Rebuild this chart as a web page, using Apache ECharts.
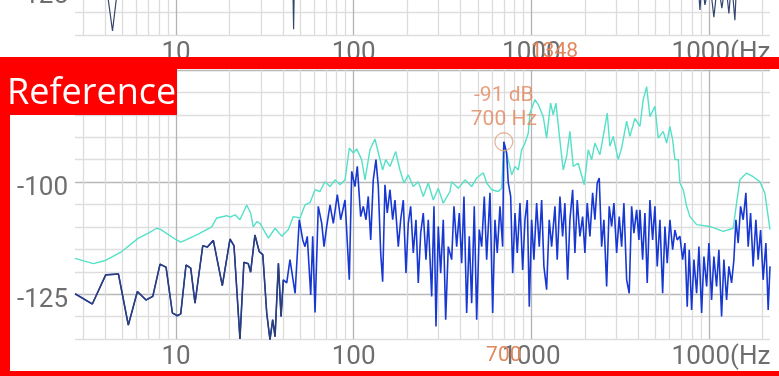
<!DOCTYPE html>
<html><head><meta charset="utf-8">
<script src="https://cdn.jsdelivr.net/npm/echarts@6/dist/echarts.min.js"></script>
<style>html,body{margin:0;padding:0;background:#fff}#c{width:779px;height:376px}</style>
</head><body><div id="c"></div>
<script>
// ---- data ----
const cyanHz = [2.70,3.43,3.99,4.95,6.14,6.99,7.79,8.13,9.88,10.63,11.38,13.35,15.88,16.95,19.29,20.13,21.5,22.9,25.0,26.3,27.2,28.5,29.7,30.4,33.1,36.1,39.4,42.9,45.7,49.9,53.2,56.8,60.6,64.6,69.0,73.6,78.5,83.8,89.4,94.5,99.5,104.0,110.9,115.8,123.5,131.8,139.4,145.6,151.4,160.1,172.4,182.2,191.9,202.9,216.5,231.0,246.5,263.0,280.6,299.4,319.4,348.4,356.1,388.0,423.1,461.5,492.4,536.4,560.5,598.1,651.6,680.8,700,741.7,775.0,809.0,844.4,882.3,920.9,961.2,982.6,1048,1094,1167,1219,1284,1328,1376,1436,1512,1580,1649,1721,1836,1985,2091,2185,2280,2433,2539,2674,2769,2891,3084,3223,3439,3589,3829,4086,4264,4457,4651,4962,5179,5526,5775,6027,6242,6430,6712,6861,7161,7484,7811,8520,10117,12020,13683,14300,14925,16278,17726,19341,20636,22050];
const cyanDb = [-117.0,-118.2,-117.5,-115.5,-112.5,-111.4,-110.3,-110.5,-112.7,-113.4,-112.9,-111.6,-110.0,-108.0,-107.5,-107.8,-107.3,-108.4,-105.1,-106.9,-110.0,-108.8,-109.2,-108.8,-112.5,-110.3,-112.1,-110.6,-107.7,-108.0,-105.1,-104.6,-101.7,-102.1,-99.9,-101.0,-99.5,-100.6,-99.5,-92.4,-93.5,-92.6,-95.0,-99.5,-92.8,-90.4,-94.3,-97.3,-95.0,-96.5,-93.2,-97.3,-100.2,-98.4,-101.0,-99.9,-103.2,-100.2,-104.0,-101.4,-104.7,-102.1,-99.9,-101.4,-99.5,-101.0,-99.1,-97.9,-100.2,-101.7,-102.1,-101.4,-91.3,-95.0,-98.4,-96.5,-97.3,-92.8,-91.3,-89.1,-84.6,-81.6,-82.7,-85.4,-90.2,-82.4,-85.0,-82.4,-89.4,-97.3,-94.3,-88.7,-96.5,-95.8,-100.6,-92.8,-95.0,-91.3,-93.9,-89.8,-84.6,-92.0,-89.8,-95.0,-92.4,-86.4,-89.8,-85.8,-87.6,-81.6,-78.7,-85.4,-83.1,-90.2,-88.7,-91.3,-87.6,-90.6,-95.0,-95.0,-100.2,-101.7,-105.4,-107.7,-109.5,-109.9,-111.0,-110.3,-104.7,-99.5,-98.0,-98.8,-99.9,-102.5,-110.6];

const blueHz = [2.70,3.38,4.02,4.74,5.39,6.06,6.78,7.40,8.13,8.79,9.54,10.17,10.63,11.38,12.10,12.79,14.14,15.00,16.22,18.22,20.13,21.2,22.9,24.1,25.5,26.3,27.8,29.4,30.8,32.4,33.8,35.0,36.1,37.7,39.0,40.2,42.0,43.8,46.8,49.4,51.7,53.2,54.8,57.3,58.8,60.6,63.2,66.1,68.1,70.5,73.6,76.8,80.9,84.5,89.4,94.5,97.5,101.7,104.8,109.5,113.3,117.3,120.8,124.7,128.9,133.5,137.6,141.9,145.6,150.0,154.5,160.1,165.8,170.8,178.3,183.9,190.2,196.9,202.9,209.3,216.5,224.2,231.0,238.3,246.5,255.2,263.0,274.8,283.1,290.6,299.4,308.8,319.4,329.5,340.8,356.1,366.9,380.0,393.0,405.4,417.7,432.5,447.4,461.5,477.3,492.4,509.3,525.4,543.4,560.5,585.1,605.9,624.2,643.0,666.0,689.7,700,726,741.7,765.1,785.2,809.0,833.3,863.1,893.8,920.9,948.6,973.7,1004,1034,1071,1108,1143,1177,1219,1261,1301,1358,1399,1449,1500,1545,1601,1649,1708,1759,1813,1877,1944,2003,2064,2137,2213,2280,2349,2411,2487,2562,2654,2744,2831,2917,3021,3124,3223,3320,3439,3556,3669,3780,3915,4033,4086,4231,4359,4491,4651,4817,4962,5113,5295,5484,5649,5820,6027,6242,6430,6626,6861,7106,7320,7542,7740,7985,8226,8520,8777,9090,9365,9699,9990,10342,10655,11034,11368,11773,12130,12561,12942,13402,13810,14177,14600,15063,15578,16130,16621,17145,17726,18364,18913,19520,20178,20905,21537,22050];
const blueDb = [-124.9,-127.2,-120.7,-120.5,-131.9,-124.4,-126.3,-125.5,-118.3,-119.0,-129.2,-129.8,-129.4,-118.5,-119.2,-127.0,-114.2,-114.5,-113.0,-123.1,-112.7,-114.2,-135.0,-117.9,-118.2,-120.1,-111.8,-115.5,-116.2,-129.2,-135.2,-130.7,-134.5,-118.1,-130.0,-121.8,-122.5,-117.3,-124.8,-108.4,-112.9,-114.4,-112.1,-125.2,-112.1,-129.1,-105.4,-109.2,-114.4,-109.9,-105.1,-109.2,-102.8,-108.4,-104.0,-121.8,-97.6,-101.0,-96.5,-107.7,-105.4,-108.4,-103.2,-112.9,-99.5,-95.0,-101.0,-115.8,-122.2,-100.6,-106.9,-101.7,-108.4,-104.0,-114.4,-108.4,-104.0,-120.3,-109.2,-105.4,-115.8,-108.4,-122.5,-111.4,-106.9,-117.3,-108.4,-125.5,-105.4,-132.2,-109.9,-120.3,-108.4,-130.7,-114.4,-117.3,-105.4,-114.4,-106.9,-118.1,-103.2,-129.2,-112.1,-127.0,-105.4,-130.7,-110.6,-114.4,-103.2,-117.3,-102.4,-129.2,-108.4,-115.8,-105.4,-114.4,-91.0,-93.5,-100.2,-103.2,-120.3,-106.9,-115.8,-104.7,-119.6,-108.4,-104.0,-127.8,-108.4,-117.3,-104.7,-114.4,-104.0,-118.8,-124.0,-108.4,-114.4,-105.4,-117.3,-103.2,-112.1,-104.7,-121.8,-108.4,-101.7,-115.8,-104.0,-112.1,-107.7,-115.8,-104.7,-112.1,-102.4,-108.4,-100.2,-99.1,-114.4,-108.4,-123.3,-105.4,-109.9,-104.7,-115.8,-107.7,-114.4,-104.7,-121.8,-124.8,-105.4,-111.4,-106.2,-112.9,-106.2,-117.3,-106.9,-122.5,-104.0,-112.9,-105.4,-118.8,-108.4,-124.8,-109.9,-118.1,-108.4,-115.1,-110.7,-112.9,-112.1,-117.3,-113.6,-127.8,-115.1,-128.5,-117.3,-124.8,-114.4,-129.2,-116.6,-123.3,-113.6,-126.3,-116.6,-123.3,-115.1,-130.0,-117.3,-126.3,-118.8,-122.5,-117.3,-108.4,-113.6,-105.4,-108.4,-102.4,-114.4,-106.9,-118.8,-108.4,-117.3,-110.7,-121.8,-113.6,-128.5,-118.8];

// previous trace, only its lowest dips show in the strip above the frame
const prevHz = [2.7,3.93,4.39,4.84,40,45.4,45.9,46.4,8500,8892,9150,9486,10100,10655,11200,11819,12400,12942,13400,13989,14500,22050];
const prevDb = [-112,-120,-134.1,-120,-115,-122,-133.7,-122,-118,-129.4,-123,-128.3,-123,-131,-123,-129,-123,-130.2,-123,-131.7,-118,-112];

const xTickValues = [10,100,1000,10000];
const xTickLabels = ['10','100','1000','1000(Hz'];
const yTickLabels = [-125,-100,-75];
const gridHz = [3,4,5,6,7,8,9,10,20,30,40,50,60,70,80,90,100,200,300,400,500,600,700,800,900,1000,2000,3000,4000,5000,6000,7000,8000,9000,10000,20000];
const markerHz = 700, markerDb = -91;
const prevMarkerHz = 1348;

// ---- chart ----
const GRAY = '#6e6e6e', ORANGE = '#e0875c';
const mn = '#dcdcdc', mj = '#b3b3b3';
const pairs = (a, b) => a.map((v, i) => [v, b[i]]);
const lowBlue = blueHz.map((v, i) => [v, blueDb[i]]).filter(d => d[0] <= 40.2);

function xAxis(gi) {
  return {
    type: 'log', logBase: 10, gridIndex: gi, min: 2.7, max: 22050,
    axisLine: { show: false },
    axisTick: { show: false, customValues: gridHz },
    splitLine: { show: true, lineStyle: { width: 1.3, color: [mn,mn,mn,mn,mn,mn,mn,mj,mn] } },
    axisLabel: {
      customValues: xTickValues, margin: 5, color: GRAY, fontSize: 26, fontFamily: 'Roboto',
      formatter: v => {
        const i = xTickValues.findIndex(t => Math.abs(Math.log10(t) - Math.log10(v)) < 0.01);
        if (i < 0) return '';
        return i === xTickValues.length - 1 ? '{s| }' + xTickLabels[i] : xTickLabels[i];
      },
      rich: { s: { width: 24, fontSize: 26 } }
    }
  };
}
function yAxis(gi) {
  return {
    type: 'value', gridIndex: gi, min: -135, max: -75, interval: 5,
    axisLine: { show: false }, axisTick: { show: false },
    splitLine: { lineStyle: { width: 1.3, color: ['#dedede','#dedede','#b8b8b8','#dedede','#dedede'] } },
    axisLabel: {
      margin: 7, color: GRAY, fontSize: 26, fontFamily: 'Roboto', verticalAlign: 'middle',
      formatter: v => yTickLabels.includes(v) ? '{a|' + v + '}' : '',
      rich: { a: { color: GRAY, fontSize: 26, fontFamily: 'Roboto', padding: [12, 0, 0, 0] } }
    }
  };
}

const chart = echarts.init(document.getElementById('c'), null, { renderer: 'canvas' });
const option = {
  animation: false,
  backgroundColor: '#ffffff',
  grid: [
    { left: 75, right: 9, top: 70, height: 269, outerBoundsMode: 'none' },
    { left: 75, right: 9, top: -234, height: 269, outerBoundsMode: 'none' }
  ],
  xAxis: [xAxis(0), xAxis(1)],
  yAxis: [yAxis(0), yAxis(1)],
  series: [
    { type: 'line', xAxisIndex: 1, yAxisIndex: 1, data: pairs(prevHz, prevDb), showSymbol: false,
      lineStyle: { color: '#34466f', width: 1.2 }, clip: true },
    { type: 'line', data: pairs(cyanHz, cyanDb), showSymbol: false, z: 3,
      lineStyle: { color: '#55e0c8', width: 1.4 } },
    { type: 'line', data: pairs(blueHz, blueDb), showSymbol: false, z: 4,
      lineStyle: { color: '#1838d2', width: 1.6 } },
    { type: 'line', data: lowBlue, showSymbol: false, z: 5,
      lineStyle: { color: '#2e406b', width: 1.3 } },
    { type: 'scatter', data: [[markerHz, markerDb]], symbolSize: 18, z: 6,
      itemStyle: { color: 'rgba(0,0,0,0)', borderColor: '#dca283', borderWidth: 1.3 },
      label: { show: true, position: 'top', distance: 0, color: ORANGE, fontSize: 21, lineHeight: 24,
        fontFamily: 'Roboto', formatter: markerDb + ' dB\n' + markerHz + ' Hz' } }
  ]
};
chart.setOption(option);

const p0 = chart.convertToPixel({ xAxisIndex: 0, yAxisIndex: 0 }, [markerHz, -135]);
const p1 = chart.convertToPixel({ xAxisIndex: 1, yAxisIndex: 1 }, [prevMarkerHz, -135]);
chart.setOption({
  graphic: [
    { type: 'text', z: 50, x: p0[0], y: p0[1] + 17, style: { text: String(markerHz), fill: ORANGE, font: '21px Roboto', textAlign: 'center', textVerticalAlign: 'middle' } },
    { type: 'text', z: 50, x: p1[0], y: p1[1] + 17, style: { text: String(prevMarkerHz), fill: ORANGE, font: '21px Roboto', textAlign: 'center', textVerticalAlign: 'middle' } },
    { type: 'rect', z: 100, shape: { x: 0, y: 57, width: 779, height: 12 }, style: { fill: '#ff0000' } },
    { type: 'rect', z: 100, shape: { x: 0, y: 57, width: 10, height: 319 }, style: { fill: '#ff0000' } },
    { type: 'rect', z: 100, shape: { x: 0, y: 371, width: 779, height: 5 }, style: { fill: '#ff0000' } },
    { type: 'rect', z: 100, shape: { x: 0, y: 57, width: 177, height: 58 }, style: { fill: '#ff0000' } },
    { type: 'text', z: 101, x: 7, y: 94, style: { text: 'Reference', fill: '#ffffff', font: '36px "Open Sans"', textVerticalAlign: 'middle' } }
  ]
});
</script></body></html>
